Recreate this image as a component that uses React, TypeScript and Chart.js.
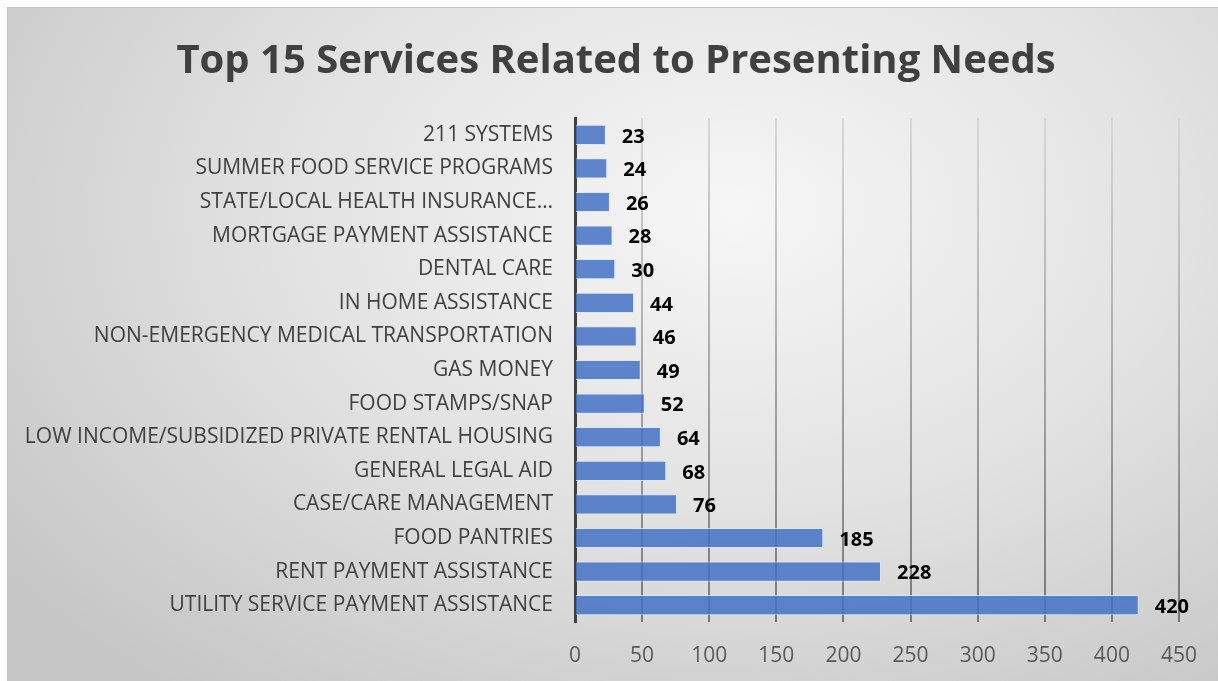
import React, { useEffect, useRef } from "react";
import { Chart, registerables } from "chart.js";
Chart.register(...registerables);

const categories = [
  "211 SYSTEMS",
  "SUMMER FOOD SERVICE PROGRAMS",
  "STATE/LOCAL HEALTH INSURANCE…",
  "MORTGAGE PAYMENT ASSISTANCE",
  "DENTAL CARE",
  "IN HOME ASSISTANCE",
  "NON-EMERGENCY MEDICAL TRANSPORTATION",
  "GAS MONEY",
  "FOOD STAMPS/SNAP",
  "LOW INCOME/SUBSIDIZED PRIVATE RENTAL HOUSING",
  "GENERAL LEGAL AID",
  "CASE/CARE MANAGEMENT",
  "FOOD PANTRIES",
  "RENT PAYMENT ASSISTANCE",
  "UTILITY SERVICE PAYMENT ASSISTANCE",
];
const counts = [23, 24, 26, 28, 30, 44, 46, 49, 52, 64, 68, 76, 185, 228, 420];
const xTicks = [0, 50, 100, 150, 200, 250, 300, 350, 400, 450];
const title = "Top 15 Services Related to Presenting Needs";

const FONT = "Open Sans";

export default function App() {
  const ref = useRef<HTMLCanvasElement>(null);
  useEffect(() => {
    const canvas = ref.current!;
    const gridGrad = (ctx: any) => {
      const chart = ctx.chart;
      const area = chart.chartArea;
      if (!area) return "#999";
      const g = chart.ctx.createLinearGradient(0, area.top, 0, area.bottom);
      g.addColorStop(0, "#d8d8d8");
      g.addColorStop(1, "#787878");
      return g;
    };
    const labelPlugin = {
      id: "valueLabels",
      afterDatasetsDraw(chart: any) {
        const ctx = chart.ctx;
        const meta = chart.getDatasetMeta(0);
        ctx.save();
        ctx.font = `bold 20px "${FONT}"`;
        ctx.fillStyle = "#000";
        ctx.textAlign = "left";
        ctx.textBaseline = "middle";
        meta.data.forEach((el: any, i: number) => {
          ctx.fillText(String(counts[i]), el.x + 16, el.y + 2);
        });
        ctx.restore();
      },
    };
    const centerTitle = {
      id: "centerTitle",
      afterLayout(chart: any) {
        const tb = chart.titleBlock;
        if (tb) {
          tb.left = 0;
          tb.right = 1218;
          tb.width = 1218;
        }
      },
    };
    const chart = new Chart(canvas, {
      type: "bar",
      data: {
        labels: categories,
        datasets: [
          {
            data: counts,
            backgroundColor: "rgba(68,114,196,0.85)",
            borderColor: "rgba(220,230,245,0.8)",
            borderWidth: 1,
            categoryPercentage: 1,
            barPercentage: 0.6,
          },
        ],
      },
      options: {
        indexAxis: "y",
        animation: false,
        responsive: false,
        layout: { padding: { left: 0, right: 39, top: 0, bottom: 0 } },
        plugins: {
          legend: { display: false },
          tooltip: { enabled: false },
          title: {
            display: true,
            text: title,
            color: "#404040",
            font: { family: FONT, size: 40, weight: "bold" },
            padding: { top: 31, bottom: 32 },
          },
        },
        scales: {
          x: {
            min: 0,
            max: 450,
            afterFit: (s: any) => { s.height = 59; },
            afterBuildTicks: (s: any) => { s.ticks = xTicks.map((v) => ({ value: v })); },
            grid: { color: gridGrad, lineWidth: 2, drawTicks: false },
            border: { display: false },
            ticks: { color: "#595959", font: { family: FONT, size: 21 }, padding: 21 },
          },
          y: {
            afterFit: (s: any) => { s.width = 568; },
            grid: { display: false, drawTicks: false },
            border: { display: true, color: "#404040", width: 3 },
            ticks: { color: "#404040", font: { family: FONT, size: 21 }, padding: 22, autoSkip: false },
          },
        },
      },
      plugins: [labelPlugin, centerTitle],
    });
    return () => chart.destroy();
  }, []);
  return (
    <div
      style={{
        position: "fixed",
        left: 7,
        top: 7,
        width: 1211,
        height: 674,
        boxSizing: "border-box",
        borderTop: "1px solid #c4c4c4",
        borderLeft: "1px solid #c4c4c4",
        background: "radial-gradient(ellipse 75% 90% at 60% 30%, #f6f6f6 0%, #e2e2e2 50%, #c6c6c6 100%)",
      }}
    >
      <canvas ref={ref} width={1211} height={674} style={{ position: "absolute", left: -1, top: -1 }} />
    </div>
  );
}
